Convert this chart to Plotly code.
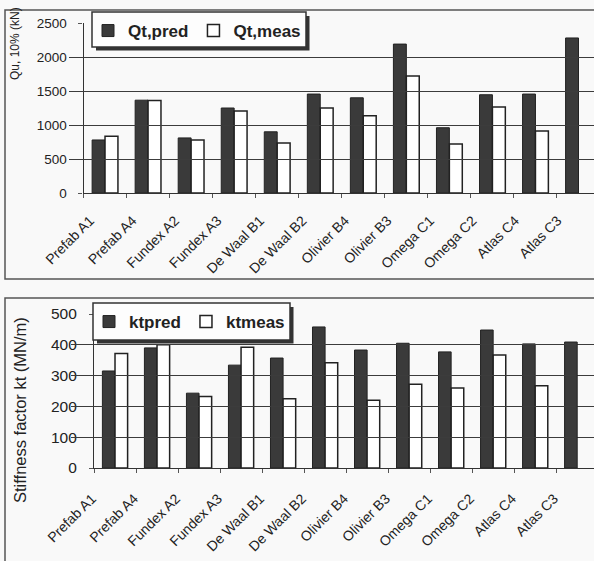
import plotly.graph_objects as go

W, H = 594, 561

categories = ["Prefab A1", "Prefab A4", "Fundex A2", "Fundex A3", "De Waal B1", "De Waal B2",
              "Olivier B4", "Olivier B3", "Omega C1", "Omega C2", "Atlas C4", "Atlas C3"]
qt_pred = [780, 1365, 810, 1250, 900, 1455, 1400, 2190, 960, 1445, 1455, 2280]
qt_meas = [835, 1360, 780, 1205, 735, 1250, 1135, 1720, 720, 1265, 910, None]
kt_pred = [315, 390, 243, 334, 357, 458, 383, 405, 377, 448, 403, 409]
kt_meas = [372, 400, 232, 392, 225, 342, 220, 272, 260, 367, 267, None]

top_yticks = [0, 500, 1000, 1500, 2000, 2500]
bot_yticks = [0, 100, 200, 300, 400, 500]

def px_x(p):
    return p / W

def px_y(p):
    return 1 - p / H

DARK = "#3a3a3a"
EDGE = "#222222"
TXT = "#222222"
FONT = "Liberation Sans, Arial, sans-serif"
BG = "#f9f9f9"

fig = go.Figure()
xs = list(range(len(categories)))
fig.add_trace(go.Bar(x=xs, y=qt_pred, name="Qt,pred", xaxis="x", yaxis="y",
                     marker=dict(color=DARK, line=dict(color=EDGE, width=1)), legend="legend"))
fig.add_trace(go.Bar(x=xs, y=qt_meas, name="Qt,meas", xaxis="x", yaxis="y",
                     marker=dict(color="white", line=dict(color=EDGE, width=1.5)), legend="legend"))
fig.add_trace(go.Bar(x=xs, y=kt_pred, name="ktpred", xaxis="x2", yaxis="y2",
                     marker=dict(color=DARK, line=dict(color=EDGE, width=1)), legend="legend2"))
fig.add_trace(go.Bar(x=xs, y=kt_meas, name="ktmeas", xaxis="x2", yaxis="y2",
                     marker=dict(color="white", line=dict(color=EDGE, width=1.5)), legend="legend2"))
fig.add_trace(go.Scatter(x=[None], y=[None], xaxis="x3", yaxis="y", showlegend=False, hoverinfo="skip"))
fig.add_trace(go.Scatter(x=[None], y=[None], xaxis="x4", yaxis="y2", showlegend=False, hoverinfo="skip"))

ax_common = dict(showgrid=False, zeroline=False, showline=True, linecolor="#333", linewidth=1.2,
                 ticks="outside", ticklen=4, tickcolor="#555", showticklabels=False,
                 tickmode="array", tickvals=[i - 0.5 for i in range(13)], automargin=False)
lab_common = dict(showgrid=False, zeroline=False, showline=False, ticks="outside",
                  tickcolor="rgba(0,0,0,0)", tickangle=-45, tickmode="array",
                  tickvals=xs, ticktext=categories, range=[-0.5, 11.5], fixedrange=True,
                  automargin=False)
y_common = dict(showgrid=True, gridcolor="#3c3c3c", gridwidth=1.2, zeroline=False,
                showline=True, linecolor="#333", linewidth=1.2, ticks="outside", ticklen=4,
                tickcolor="#555", automargin=False, ticklabelstandoff=9)

fig.update_layout(
    width=W, height=H, margin=dict(l=0, r=0, t=0, b=0, pad=0, autoexpand=False),
    paper_bgcolor=BG, plot_bgcolor="rgba(0,0,0,0)",
    barmode="group", bargap=0.4, bargroupgap=0,
    font=dict(family=FONT, color=TXT),
    xaxis=dict(domain=[px_x(83.5), 1], range=[-0.5, 11.36], anchor="y", **ax_common),
    yaxis=dict(domain=[px_y(193), px_y(23)], range=[0, 2500], tickvals=top_yticks,
               tickfont=dict(size=13.5, color=TXT), anchor="x", **y_common),
    xaxis2=dict(domain=[px_x(94), 1], range=[-0.5, 11.4], anchor="y2", **ax_common),
    yaxis2=dict(domain=[px_y(468), px_y(314)], range=[0, 500], tickvals=bot_yticks,
                tickfont=dict(size=15.5, color=TXT), anchor="x2", **y_common),
    xaxis3=dict(domain=[px_x(68.75), px_x(578.75)], anchor="y", ticklen=13,
                tickfont=dict(size=14, color=TXT), **lab_common),
    xaxis4=dict(domain=[px_x(71), px_x(575)], anchor="y2", ticklen=16,
                tickfont=dict(size=14, color=TXT), **lab_common),
    legend=dict(x=px_x(88), y=px_y(13), xanchor="left", yanchor="top", orientation="h",
                bgcolor="rgba(0,0,0,0)", borderwidth=0,
                font=dict(size=17, color=TXT, family="Liberation Sans, Arial", weight="bold"),
                itemwidth=30, tracegroupgap=0),
    legend2=dict(x=px_x(89), y=px_y(304), xanchor="left", yanchor="top", orientation="h",
                 bgcolor="rgba(0,0,0,0)", borderwidth=0,
                 font=dict(size=17, color=TXT, family="Liberation Sans, Arial", weight="bold"),
                 itemwidth=30, tracegroupgap=0),
    showlegend=True,
)

shapes = [
    dict(type="rect", xref="paper", yref="paper", x0=px_x(5), x1=px_x(600), y0=px_y(279), y1=px_y(10),
         line=dict(color="#555", width=1.5), layer="below"),
    dict(type="rect", xref="paper", yref="paper", x0=px_x(5), x1=px_x(600), y0=px_y(570), y1=px_y(298),
         line=dict(color="#555", width=1.5), layer="below"),
    dict(type="rect", xref="paper", yref="paper", x0=px_x(96), x1=px_x(309.5), y0=px_y(50.5), y1=px_y(16),
         fillcolor="#333", line=dict(width=0), layer="above"),
    dict(type="rect", xref="paper", yref="paper", x0=px_x(92), x1=px_x(306), y0=px_y(47), y1=px_y(12),
         fillcolor="#fdfdfd", line=dict(color="#333", width=1.5), layer="above"),
    dict(type="rect", xref="paper", yref="paper", x0=px_x(97), x1=px_x(293.5), y0=px_y(343.5), y1=px_y(307),
         fillcolor="#333", line=dict(width=0), layer="above"),
    dict(type="rect", xref="paper", yref="paper", x0=px_x(93), x1=px_x(290), y0=px_y(340), y1=px_y(303),
         fillcolor="#fdfdfd", line=dict(color="#333", width=1.5), layer="above"),
]
fig.update_layout(shapes=shapes)

fig.add_annotation(text="Qu, 10% (kN)", xref="paper", yref="paper", x=px_x(15), y=px_y(44),
                   xanchor="center", yanchor="middle",
                   textangle=-90, showarrow=False, font=dict(size=12, color=TXT))
fig.add_annotation(text="Stiffness factor kt (MN/m)", xref="paper", yref="paper", x=px_x(20), y=px_y(410),
                   xanchor="center", yanchor="middle",
                   textangle=-90, showarrow=False, font=dict(size=16.5, color=TXT))

fig.write_html("out.html", config={"displayModeBar": False},
               post_script="document.body.style.margin='0';")
